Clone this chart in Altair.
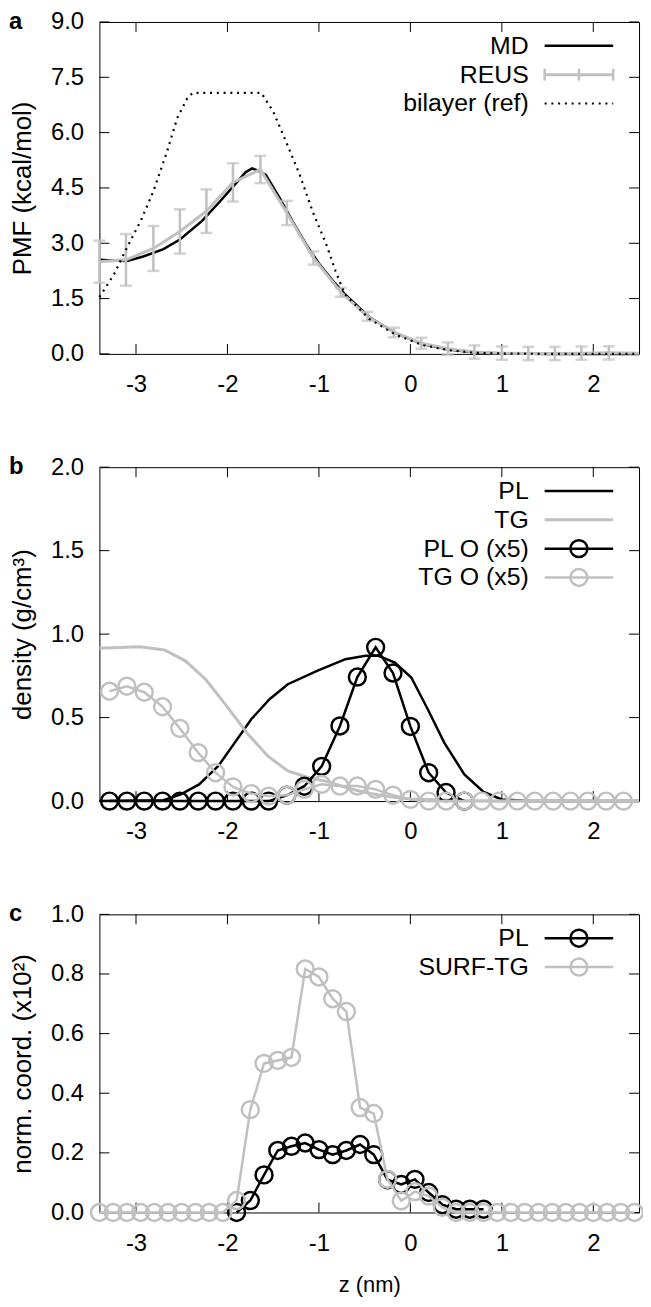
import altair as alt
import pandas as pd

# ---------------- data ----------------
# Panel a: PMF (kcal/mol) vs z (nm)
md_z = [-3.40, -3.25, -3.10, -2.92, -2.70, -2.52, -2.28, -2.08, -1.92, -1.80, -1.73, -1.66,
        -1.58, -1.43, -1.29, -1.14, -1.00, -0.85, -0.72, -0.45, -0.16, 0.13, 0.42, 0.71,
        1.00, 1.50, 2.00, 2.50]
md_pmf = [2.55, 2.53, 2.52, 2.64, 2.84, 3.10, 3.60, 4.14, 4.59, 4.93, 5.03, 4.96,
          4.85, 4.23, 3.60, 2.97, 2.45, 1.99, 1.63, 1.00, 0.56, 0.27, 0.12, 0.04,
          0.01, 0.00, 0.00, 0.00]

reus_z = [-3.40, -3.11, -2.81, -2.52, -2.23, -1.94, -1.64, -1.35, -1.06, -0.76,
          -0.47, -0.18, 0.12, 0.41, 0.70, 1.00, 1.29, 1.58, 1.87, 2.17]
reus_pmf = [2.50, 2.55, 2.86, 3.32, 3.87, 4.65, 5.00, 3.82, 2.60, 1.67,
            1.02, 0.58, 0.29, 0.14, 0.05, 0.02, 0.01, 0.01, 0.02, 0.03]
reus_err = [0.57, 0.70, 0.61, 0.60, 0.59, 0.52, 0.37, 0.33, 0.18, 0.12,
            0.12, 0.13, 0.15, 0.17, 0.18, 0.18, 0.18, 0.18, 0.18, 0.18]
reus_tail_z = [2.50]
reus_tail_pmf = [0.02]

bil_z = [-3.40, -3.24, -3.10, -2.95, -2.81, -2.66, -2.55, -2.44, -2.38, -1.63, -1.50,
         -1.36, -1.21, -1.07, -0.92, -0.82, -0.72, -0.45, -0.16, 0.13, 0.42, 0.71,
         1.00, 1.50, 2.50]
bil_pmf = [1.54, 2.16, 2.88, 3.60, 4.41, 5.49, 6.39, 6.93, 7.08, 7.08, 6.57,
           5.76, 4.86, 3.87, 2.97, 2.26, 1.63, 0.95, 0.52, 0.24, 0.10, 0.03,
           0.01, 0.00, 0.00]

# Panel b: density (g/cm3)
pl_z = [-3.40, -2.70, -2.51, -2.31, -2.10, -1.92, -1.74, -1.54, -1.34, -1.02, -0.71,
        -0.49, -0.35, -0.17, 0.01, 0.19, 0.37, 0.59, 0.80, 1.00, 1.30, 2.50]
pl_rho = [0.00, 0.005, 0.04, 0.10, 0.21, 0.35, 0.49, 0.61, 0.70, 0.78, 0.85,
          0.87, 0.87, 0.83, 0.74, 0.55, 0.35, 0.16, 0.055, 0.01, 0.00, 0.00]

tg_z = [-3.40, -2.96, -2.69, -2.46, -2.24, -2.01, -1.79, -1.56, -1.34, -1.11, -0.89,
        -0.67, -0.44, -0.22, 0.00, 0.22, 0.50, 1.00, 2.50]
tg_rho = [0.915, 0.925, 0.905, 0.84, 0.73, 0.57, 0.41, 0.27, 0.18, 0.14, 0.115,
          0.075, 0.045, 0.026, 0.012, 0.01, 0.003, 0.00, 0.00]

o_z = [-3.29, -3.10, -2.91, -2.71, -2.52, -2.32, -2.13, -1.94, -1.74, -1.55,
       -1.35, -1.16, -0.97, -0.77, -0.58, -0.38, -0.19, 0.00, 0.20, 0.39,
       0.59, 0.78, 0.97, 1.17, 1.36, 1.56, 1.75, 1.94, 2.14, 2.33]
plo_rho = [0.0, 0.0, 0.0, 0.0, 0.0, 0.0, 0.0, 0.0, 0.0, 0.0,
           0.035, 0.089, 0.208, 0.45, 0.743, 0.921, 0.767, 0.447, 0.17, 0.051,
           0.0]
tgo_rho = [0.658, 0.688, 0.652, 0.565, 0.435, 0.29, 0.17, 0.085, 0.045, 0.03,
           0.035, 0.07, 0.10, 0.09, 0.09, 0.07, 0.035, 0.01, 0.0, 0.0,
           0.0, 0.0, 0.0, 0.0, 0.0, 0.0, 0.0, 0.0, 0.0, 0.0]

# Panel c: normalised coordination (x10^2)
c_z = [-3.40, -3.25, -3.10, -2.95, -2.80, -2.65, -2.50, -2.35, -2.20, -2.05,
       -1.90, -1.75, -1.60, -1.45, -1.30, -1.15, -1.00, -0.85, -0.70, -0.55,
       -0.40, -0.25, -0.10, 0.05, 0.20, 0.35, 0.50, 0.65, 0.80, 0.95,
       1.10, 1.25, 1.40, 1.55, 1.70, 1.85, 2.00, 2.15, 2.30, 2.45]
surf_coord = [0.0, 0.0, 0.0, 0.0, 0.0, 0.0, 0.0, 0.0, 0.0, 0.0,
              0.04, 0.345, 0.50, 0.51, 0.52, 0.817, 0.79, 0.717, 0.674, 0.352,
              0.332, 0.111, 0.039, 0.07, 0.055, 0.017, 0.0, 0.0, 0.0, 0.0,
              0.0, 0.0, 0.0, 0.0, 0.0, 0.0, 0.0, 0.0, 0.0, 0.0]
plc_z = [-1.90, -1.75, -1.60, -1.45, -1.30, -1.15, -1.00, -0.85, -0.70, -0.55,
         -0.40, -0.25, -0.10, 0.05, 0.20, 0.35, 0.50, 0.65, 0.80]
plc_coord = [0.0, 0.04, 0.126, 0.208, 0.222, 0.233, 0.211, 0.194, 0.208, 0.228,
             0.194, 0.11, 0.094, 0.111, 0.067, 0.026, 0.011, 0.011, 0.011]

x_ticks = [-3, -2, -1, 0, 1, 2]
ya_ticks = [0.0, 1.5, 3.0, 4.5, 6.0, 7.5, 9.0]
yb_ticks = [0.0, 0.5, 1.0, 1.5, 2.0]
yc_ticks = [0.0, 0.2, 0.4, 0.6, 0.8, 1.0]

legend_a = ["MD", "REUS", "bilayer (ref)"]
legend_b = ["PL", "TG", "PL O (x5)", "TG O (x5)"]
legend_c = ["PL", "SURF-TG"]

# ---------------- style ----------------
FONT = "Liberation Sans"
BLACK = "#000000"
GRAY = "#c0c0c0"
W = 543
XDOM = [-3.4, 2.5]
TICK_FS = 24
LEG_FS = 25
YTITLE_FS = 26
XTITLE_FS = 22
TICK_LEN = 10

LEG_TX = 432
LEG_X1, LEG_X2 = 448, 517
LEG_XC = (LEG_X1 + LEG_X2) / 2
LEG_Y0, LEG_DY = 24, 29
CIRCLE = 289


def df(z, v):
    n = min(len(z), len(v))
    return pd.DataFrame({"z": z[:n], "v": v[:n]})


def xs(axis, field="z:Q"):
    return alt.X(field, scale=alt.Scale(domain=XDOM, nice=False, zero=False), axis=axis)


def ys(dom, axis, field="v:Q"):
    return alt.Y(field, scale=alt.Scale(domain=dom, nice=False, zero=False), axis=axis)


def main_x(show_title):
    kw = dict(orient="bottom", values=x_ticks, ticks=False, domain=False, grid=False,
              labelFont=FONT, labelFontSize=TICK_FS, labelColor="black", labelPadding=19,
              labelExpr="toString(datum.value)")
    if show_title:
        kw.update(title="z (nm)", titleFont=FONT, titleFontSize=XTITLE_FS, titleFontWeight="normal",
                  titleColor="black", titlePadding=20)
    else:
        kw.update(title=None)
    return alt.Axis(**kw)


def main_y(values, title):
    return alt.Axis(orient="left", values=values, format=".1f", ticks=False, domain=False,
                    grid=False, labelFont=FONT, labelFontSize=TICK_FS, labelColor="black",
                    labelPadding=16, title=title, titleFont=FONT, titleFontSize=YTITLE_FS,
                    titleFontWeight="normal", titleColor="black", titlePadding=15)


def frame_ticks(h, ydom, yvals):
    """Inward ticks on all four sides, placed by the shared scales."""
    xt = pd.DataFrame({"t": x_ticks})
    yt = pd.DataFrame({"t": yvals})
    rule = dict(color="black", strokeWidth=1)
    bottom = alt.Chart(xt).mark_rule(**rule).encode(
        x=xs(None, "t:Q"), y=alt.value(h), y2=alt.value(h - TICK_LEN))
    top = alt.Chart(xt).mark_rule(**rule).encode(
        x=xs(None, "t:Q"), y=alt.value(0), y2=alt.value(TICK_LEN))
    left = alt.Chart(yt).mark_rule(**rule).encode(
        y=ys(ydom, None, "t:Q"), x=alt.value(0), x2=alt.value(TICK_LEN))
    right = alt.Chart(yt).mark_rule(**rule).encode(
        y=ys(ydom, None, "t:Q"), x=alt.value(W), x2=alt.value(W - TICK_LEN))
    return [bottom, top, left, right]


def one(label):
    return alt.Data(values=[{"label": label}])


def leg_text(label, row):
    return alt.Chart(one(label)).mark_text(
        align="right", baseline="middle", font=FONT, fontSize=LEG_FS, color="black"
    ).encode(x=alt.value(LEG_TX), y=alt.value(LEG_Y0 + row * LEG_DY), text="label:N")


def leg_line(label, row, color, width, dash=None):
    kw = dict(color=color, strokeWidth=width)
    if dash:
        kw["strokeDash"] = dash
    return alt.Chart(one(label)).mark_rule(**kw).encode(
        x=alt.value(LEG_X1), x2=alt.value(LEG_X2), y=alt.value(LEG_Y0 + row * LEG_DY))


def leg_vtick(label, row, xpos, color):
    y = LEG_Y0 + row * LEG_DY
    return alt.Chart(one(label)).mark_rule(color=color, strokeWidth=2.5).encode(
        x=alt.value(xpos), y=alt.value(y - 6), y2=alt.value(y + 6))


def leg_circle(label, row, color):
    return alt.Chart(one(label)).mark_point(
        shape="circle", filled=False, size=CIRCLE, strokeWidth=2.5, color=color, opacity=1
    ).encode(x=alt.value(LEG_XC), y=alt.value(LEG_Y0 + row * LEG_DY))


def letter(t):
    return alt.Chart(one(t)).mark_text(
        align="left", baseline="middle", font=FONT, fontSize=24, fontWeight="bold", color="black"
    ).encode(x=alt.value(-91), y=alt.value(0), text="label:N")


def panel(layers, h):
    return alt.layer(*layers).resolve_axis(x="independent", y="independent").properties(
        width=W, height=h)


# ---------------- panel a ----------------
HA = 334
ADOM = [0, 9]
md_df = df(md_z, md_pmf)
reus_df = df(reus_z, reus_pmf)
reus_df["lo"] = [p - e for p, e in zip(reus_pmf, reus_err)]
reus_df["hi"] = [p + e for p, e in zip(reus_pmf, reus_err)]
reus_line_df = df(reus_z + reus_tail_z, reus_pmf + reus_tail_pmf)
bil_df = df(bil_z, bil_pmf)

a_md = alt.Chart(md_df).mark_line(color=BLACK, strokeWidth=2.5).encode(
    x=xs(main_x(False)), y=ys(ADOM, main_y(ya_ticks, "PMF (kcal/mol)")))
a_bar = alt.Chart(reus_df).mark_rule(color=GRAY, strokeWidth=2.5).encode(
    x=xs(None), y=ys(ADOM, None, "lo:Q"), y2="hi:Q")
a_cap_lo = alt.Chart(reus_df).mark_tick(color=GRAY, orient="horizontal", size=12, thickness=2.5).encode(
    x=xs(None), y=ys(ADOM, None, "lo:Q"))
a_cap_hi = alt.Chart(reus_df).mark_tick(color=GRAY, orient="horizontal", size=12, thickness=2.5).encode(
    x=xs(None), y=ys(ADOM, None, "hi:Q"))
a_reus = alt.Chart(reus_line_df).mark_line(color=GRAY, strokeWidth=3).encode(
    x=xs(None), y=ys(ADOM, None))
a_bil = alt.Chart(bil_df).mark_line(color=BLACK, strokeWidth=2.2, strokeDash=[2, 4.8]).encode(
    x=xs(None), y=ys(ADOM, None))

leg_a = [
    leg_text(legend_a[0], 0), leg_line(legend_a[0], 0, BLACK, 2.5),
    leg_text(legend_a[1], 1), leg_line(legend_a[1], 1, GRAY, 3),
    leg_vtick(legend_a[1], 1, LEG_X1, GRAY), leg_vtick(legend_a[1], 1, LEG_XC, GRAY),
    leg_vtick(legend_a[1], 1, LEG_X2, GRAY),
    leg_text(legend_a[2], 2), leg_line(legend_a[2], 2, BLACK, 2.2, [2, 4.8]),
]
panel_a = panel([a_md, *frame_ticks(HA, ADOM, ya_ticks), a_bar, a_cap_lo, a_cap_hi, a_reus, a_bil,
                 *leg_a, letter("a")], HA)

# ---------------- panel b ----------------
HB = 336
BDOM = [0, 2]
b_pl = alt.Chart(df(pl_z, pl_rho)).mark_line(color=BLACK, strokeWidth=2.5).encode(
    x=xs(main_x(False)), y=ys(BDOM, main_y(yb_ticks, "density (g/cm³)")))
b_tg = alt.Chart(df(tg_z, tg_rho)).mark_line(color=GRAY, strokeWidth=3).encode(
    x=xs(None), y=ys(BDOM, None))
plo_df = df(o_z, plo_rho)
tgo_df = df(o_z, tgo_rho)
b_plo_l = alt.Chart(plo_df).mark_line(color=BLACK, strokeWidth=2.5).encode(
    x=xs(None), y=ys(BDOM, None))
b_plo_p = alt.Chart(plo_df).mark_point(shape="circle", filled=False, size=CIRCLE, strokeWidth=2.5,
                                        color=BLACK, opacity=1).encode(x=xs(None), y=ys(BDOM, None))
b_tgo_l = alt.Chart(tgo_df).mark_line(color=GRAY, strokeWidth=2.5).encode(
    x=xs(None), y=ys(BDOM, None))
b_tgo_p = alt.Chart(tgo_df).mark_point(shape="circle", filled=False, size=CIRCLE, strokeWidth=2.5,
                                        color=GRAY, opacity=1).encode(x=xs(None), y=ys(BDOM, None))
leg_b = [
    leg_text(legend_b[0], 0), leg_line(legend_b[0], 0, BLACK, 2.5),
    leg_text(legend_b[1], 1), leg_line(legend_b[1], 1, GRAY, 3),
    leg_text(legend_b[2], 2), leg_line(legend_b[2], 2, BLACK, 2.5), leg_circle(legend_b[2], 2, BLACK),
    leg_text(legend_b[3], 3), leg_line(legend_b[3], 3, GRAY, 2.5), leg_circle(legend_b[3], 3, GRAY),
]
panel_b = panel([b_pl, *frame_ticks(HB, BDOM, yb_ticks), b_tg, b_plo_l, b_plo_p, b_tgo_l, b_tgo_p,
                 *leg_b, letter("b")], HB)

# ---------------- panel c ----------------
HC = 300
CDOM = [0, 1]
plc_df = df(plc_z, plc_coord)
surf_df = df(c_z, surf_coord)
c_pl_l = alt.Chart(plc_df).mark_line(color=BLACK, strokeWidth=2.5).encode(
    x=xs(main_x(True)), y=ys(CDOM, main_y(yc_ticks, "norm. coord. (x10²)")))
c_pl_p = alt.Chart(plc_df).mark_point(shape="circle", filled=False, size=CIRCLE, strokeWidth=2.5,
                                       color=BLACK, opacity=1).encode(x=xs(None), y=ys(CDOM, None))
c_s_l = alt.Chart(surf_df).mark_line(color=GRAY, strokeWidth=2.5).encode(
    x=xs(None), y=ys(CDOM, None))
c_s_p = alt.Chart(surf_df).mark_point(shape="circle", filled=False, size=CIRCLE, strokeWidth=2.5,
                                       color=GRAY, opacity=1).encode(x=xs(None), y=ys(CDOM, None))
leg_c = [
    leg_text(legend_c[0], 0), leg_line(legend_c[0], 0, BLACK, 2.5), leg_circle(legend_c[0], 0, BLACK),
    leg_text(legend_c[1], 1), leg_line(legend_c[1], 1, GRAY, 2.5), leg_circle(legend_c[1], 1, GRAY),
]
panel_c = panel([c_pl_l, *frame_ticks(HC, CDOM, yc_ticks), c_pl_p, c_s_l, c_s_p,
                 *leg_c, letter("c")], HC)

chart = alt.vconcat(panel_a, panel_b, panel_c, spacing=57).properties(
    padding={"left": 0, "top": -3, "right": -6, "bottom": 0},
    background="white",
).configure_view(stroke="black", strokeWidth=1)

chart.save("out.html", embed_options={"renderer": "svg", "actions": False})
